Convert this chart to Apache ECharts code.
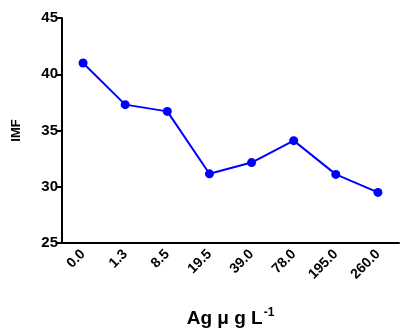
<!DOCTYPE html>
<html><head><meta charset="utf-8">
<script src="https://cdn.jsdelivr.net/npm/echarts@6/dist/echarts.min.js"></script>
<style>html,body{margin:0;padding:0;background:#fff}#c{width:400px;height:333px}</style>
</head><body><div id="c"></div>
<script>
const categories = ['0.0','1.3','8.5','19.5','39.0','78.0','195.0','260.0'];
const imfValues = [41.0, 37.3, 36.7, 31.15, 32.15, 34.1, 31.1, 29.5];
const yTicks = [25, 30, 35, 40, 45];

const chart = echarts.init(document.getElementById('c'));
chart.setOption({
  animation: false,
  grid: { left: 62, right: 1, top: 18, bottom: 90, containLabel: false, outerBoundsMode: 'none' },
  xAxis: {
    type: 'category',
    data: categories,
    boundaryGap: true,
    axisLine: { lineStyle: { color: '#000', width: 2 } },
    axisTick: { alignWithLabel: true, length: 6, lineStyle: { color: '#000', width: 2 } },
    axisLabel: { rotate: 45, margin: 9, color: '#000', fontWeight: 'bold', fontSize: 14, fontFamily: 'Liberation Sans' },
    name: '{a|Ag μ g L}{s|-1}',
    nameLocation: 'middle',
    nameGap: 64,
    nameTextStyle: {
      rich: {
        a: { fontSize: 19, fontWeight: 'bold', color: '#000', fontFamily: 'Liberation Sans', verticalAlign: 'bottom' },
        s: { fontSize: 12, fontWeight: 'bold', color: '#000', fontFamily: 'Liberation Sans', verticalAlign: 'top', padding: [0,0,9,1] }
      }
    }
  },
  yAxis: {
    type: 'value',
    min: yTicks[0], max: yTicks[yTicks.length-1], interval: 5,
    axisLine: { show: true, lineStyle: { color: '#000', width: 2 } },
    axisTick: { show: true, length: 6, lineStyle: { color: '#000', width: 2 } },
    splitLine: { show: false },
    axisLabel: { margin: 4, color: '#000', fontWeight: 'bold', fontSize: 15, fontFamily: 'Liberation Sans' },
    name: 'IMF',
    nameLocation: 'middle',
    nameGap: 39,
    nameTextStyle: { fontSize: 13, fontWeight: 'bold', color: '#000', fontFamily: 'Liberation Sans' }
  },
  series: [{
    type: 'line',
    data: imfValues,
    symbol: 'circle',
    symbolSize: 9,
    itemStyle: { color: '#0000FF' },
    lineStyle: { color: '#0000FF', width: 2 }
  }]
});
</script></body></html>
